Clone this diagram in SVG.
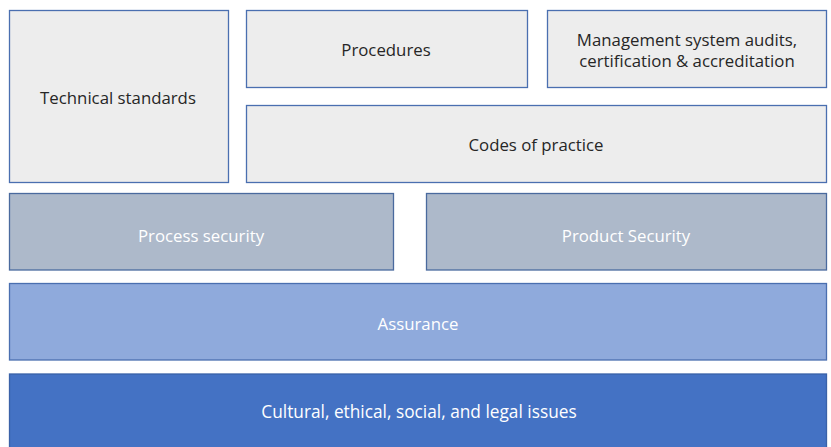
<svg xmlns="http://www.w3.org/2000/svg" width="831" height="447" viewBox="0 0 831 447">
<style>
.box{stroke-width:1.3}
.light{fill:#EDEDED;stroke:#4A6FB0}
.sec{fill:#ADB9CA;stroke:#4A6A9E}
.asr{fill:#8FAADC;stroke:#4A6FB0}
.cul{fill:#4472C4;stroke:#3A62A8}
text{font-family:"Open Sans","Liberation Sans",Arial,sans-serif;font-size:16.8px;text-anchor:middle;dominant-baseline:central}
.dark{fill:#262626}
.white{fill:#FFFFFF}
.wide{font-size:17.3px}
</style>
<rect width="831" height="447" fill="#FFFFFF"/>
<g id="technical-standards"><rect class="box light" x="9.5" y="10.5" width="219" height="172"/><text class="dark" x="118" y="97">Technical standards</text></g>
<g id="procedures"><rect class="box light" x="246.5" y="10.5" width="281" height="77"/><text class="dark" x="386" y="49">Procedures</text></g>
<g id="management"><rect class="box light" x="547.5" y="10.5" width="279" height="77"/><text class="dark" x="687" y="39">Management system audits,</text><text class="dark" x="687" y="60">certification &amp; accreditation</text></g>
<g id="codes-of-practice"><rect class="box light" x="246.5" y="105.5" width="580" height="77"/><text class="dark" x="536" y="144">Codes of practice</text></g>
<g id="process-security"><rect class="box sec" x="9.5" y="193.5" width="384" height="76.5"/><text class="white" x="201" y="235">Process security</text></g>
<g id="product-security"><rect class="box sec" x="426.5" y="193.5" width="400" height="76.5"/><text class="white" x="626" y="235">Product Security</text></g>
<g id="assurance"><rect class="box asr" x="9.5" y="283.5" width="817" height="76.5"/><text class="white" x="418" y="323">Assurance</text></g>
<g id="cultural"><rect class="box cul" x="9.5" y="374" width="817" height="80"/><text class="white wide" x="419" y="411">Cultural, ethical, social, and legal issues</text></g>
<g id="connectors"/>
</svg>
